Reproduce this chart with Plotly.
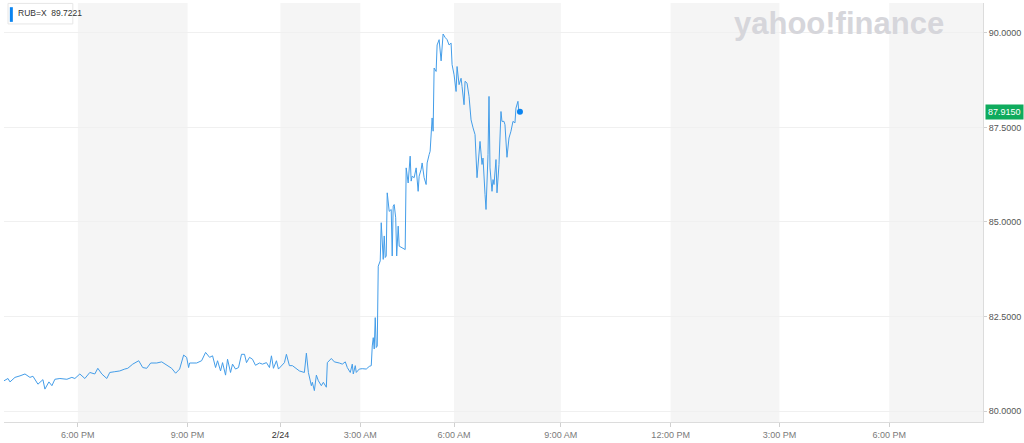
import plotly.graph_objects as go

# ---- data ----
POS = [4, 8, 10, 15, 20, 25, 30, 33, 38, 43, 45, 49, 52, 55, 60, 67, 72, 75, 80, 85,
       90, 95, 98, 102, 107, 110, 115, 120, 125, 128, 133, 139, 143, 147, 151, 157, 162, 167, 172, 176,
       180, 184, 187, 189, 190, 197, 202, 206, 210, 213, 216, 218, 221, 223, 226, 228, 231, 233, 236, 239,
       242, 245, 247, 250, 253, 256, 260, 263, 267, 270, 272, 274, 277, 279, 282, 285, 287, 290, 293, 297,
       300, 305, 307, 309, 312, 313, 315, 317, 319, 322, 324, 327, 328, 332, 335, 340, 343, 346, 348, 351,
       353, 354, 356, 357, 360, 363, 367, 370, 372, 373, 374, 375, 376, 377, 378, 379, 381, 382, 383, 384,
       385, 386, 387, 388, 390, 392, 393, 394, 395, 396.5, 397.5, 399, 400, 403, 406, 407, 409, 411, 412, 413,
       415, 417, 419, 420, 422, 423, 425, 427, 428, 430, 431, 433, 434, 435, 437, 438, 440, 442, 443, 444,
       446, 448, 450, 452, 453, 455, 457, 458, 460, 462, 463, 465, 466, 468, 470, 472, 474, 476, 478, 481,
       483, 484, 486, 487, 489, 490, 491, 493, 494, 495, 497, 498, 500, 502, 503, 505, 506, 507, 508, 510,
       512, 514, 516, 517, 519, 520, 521]
RATE = [80.80, 80.86, 80.77, 80.89, 80.93, 80.98, 80.89, 80.92, 80.71, 80.83, 80.58, 80.77, 80.67, 80.84, 80.86, 80.84, 80.89, 80.86, 80.98, 80.86,
        81.02, 80.98, 81.13, 80.98, 80.86, 81.02, 81.04, 81.06, 81.11, 81.13, 81.24, 81.33, 81.15, 81.13, 81.27, 81.27, 81.30, 81.21, 81.13, 81.00,
        81.11, 81.48, 81.42, 81.15, 81.27, 81.27, 81.33, 81.55, 81.42, 81.46, 81.15, 81.33, 81.06, 81.28, 80.95, 81.37, 81.02, 81.24, 81.11, 81.15,
        81.50, 81.50, 81.28, 81.42, 81.37, 81.21, 81.27, 81.24, 81.28, 81.15, 81.46, 81.13, 81.33, 81.11, 81.21, 81.28, 81.50, 81.20, 81.20, 81.11,
        81.06, 81.02, 81.53, 81.02, 80.67, 80.76, 80.54, 80.95, 80.80, 80.67, 80.76, 80.63, 81.28, 81.39, 81.30, 81.27, 81.24, 81.30, 81.15, 81.02,
        81.24, 80.98, 81.20, 81.02, 81.11, 81.12, 81.11, 81.18, 81.20, 81.72, 81.94, 81.64, 82.47, 81.68, 81.72, 83.83, 83.97, 84.98, 84.54, 84.01,
        84.63, 84.06, 84.10, 85.77, 85.28, 85.33, 84.10, 85.42, 85.46, 85.11, 84.10, 84.89, 84.36, 84.32, 84.27, 86.43, 86.03, 86.74, 86.08, 86.21,
        86.17, 86.43, 85.81, 86.21, 86.39, 86.56, 86.17, 85.99, 86.56, 86.78, 86.87, 87.75, 87.40, 89.07, 88.98, 89.68, 89.82, 89.26, 89.82, 89.97,
        89.88, 89.82, 89.68, 89.73, 89.16, 88.89, 88.45, 89.11, 88.63, 88.80, 88.58, 88.10, 88.72, 88.67, 88.32, 87.70, 87.49, 87.31, 86.17, 87.13,
        86.52, 86.69, 85.73, 85.33, 86.78, 88.32, 86.43, 85.81, 86.12, 85.99, 86.65, 85.77, 86.52, 87.92, 87.66, 87.66, 87.57, 87.22, 86.71, 87.22,
        87.40, 87.66, 87.62, 88.01, 88.19, 87.88, 87.915]

TICK_POS = [78, 188, 281, 361, 455, 562, 672, 781, 891]
TICK_TEXT = ["6:00 PM", "9:00 PM", "<span style='color:#333'>2/24</span>", "3:00 AM", "6:00 AM",
             "9:00 AM", "12:00 PM", "3:00 PM", "6:00 PM"]
Y_TICKS = [80.0, 82.5, 85.0, 87.5, 90.0]
SYMBOL = "RUB=X"
PREV_CLOSE = 89.7221
LAST = RATE[-1]

X_RANGE = [4, 985]
Y_RANGE = [79.71, 90.79]

fig = go.Figure()

# alternating shaded bands between ticks
edges = TICK_POS + [X_RANGE[1]]
for i in range(0, len(TICK_POS), 2):
    fig.add_shape(type="rect", xref="x", yref="paper", x0=edges[i], x1=edges[i + 1],
                  y0=0, y1=1, fillcolor="#f5f5f5", line=dict(width=0), layer="below")

fig.add_trace(go.Scatter(x=POS, y=RATE, mode="lines",
                         line=dict(color="#439de9", width=1), hoverinfo="skip"))
fig.add_trace(go.Scatter(x=[POS[-1]], y=[LAST], mode="markers",
                         marker=dict(color="#0a84f0", size=6), hoverinfo="skip"))

fig.update_layout(
    width=1024, height=443,
    margin=dict(l=4, r=39, t=3, b=20),
    paper_bgcolor="white", plot_bgcolor="white",
    showlegend=False,
    font=dict(family="Liberation Sans, Arial, sans-serif"),
    xaxis=dict(range=X_RANGE, tickvals=TICK_POS, ticktext=TICK_TEXT,
               showgrid=False, zeroline=False, showline=True, linecolor="#dcdcdc",
               ticks="outside", ticklen=4, tickcolor="#d0d0d0",
               tickfont=dict(size=9, color="#7a7a7a")),
    yaxis=dict(range=Y_RANGE, side="right", tickvals=Y_TICKS,
               ticktext=[f"{v:.4f}" for v in Y_TICKS],
               showgrid=True, gridcolor="#f0f0f0", zeroline=False,
               showline=True, linecolor="#dcdcdc",
               ticks="outside", ticklen=3, tickcolor="#d0d0d0",
               tickfont=dict(size=9, color="#555")),
)

# watermark
fig.add_annotation(xref="paper", yref="paper", x=0.853, y=0.95, xanchor="center", yanchor="middle",
                   showarrow=False, text="<b>yahoo!finance</b>",
                   font=dict(size=31, color="#d6d6db", family="Liberation Sans, Arial, sans-serif"))
# legend box
fig.add_shape(type="rect", xref="paper", yref="paper", x0=0.0041, x1=0.0703, y0=0.95, y1=0.999,
              fillcolor="white", line=dict(color="#e6e6e6", width=1), layer="above")
fig.add_shape(type="line", xref="paper", yref="paper", x0=0.0075, x1=0.0075, y0=0.955, y1=0.99,
              line=dict(color="#0a84f0", width=3), layer="above")
fig.add_annotation(xref="paper", yref="paper", x=0.0125, y=0.975, xanchor="left", yanchor="middle",
                   showarrow=False, text=f"{SYMBOL}&nbsp; {PREV_CLOSE:.4f}",
                   font=dict(size=8.5, color="#333"))
# last price label
fig.add_annotation(xref="paper", yref="y", x=1.002, y=LAST, xanchor="left", showarrow=False,
                   text=f"{LAST:.4f}", font=dict(size=9, color="white"),
                   bgcolor="#0fab5d", borderpad=2)

fig.write_html("out.html", config={"displayModeBar": False},
               post_script="document.body.style.margin='0';document.body.style.overflow='hidden';")
